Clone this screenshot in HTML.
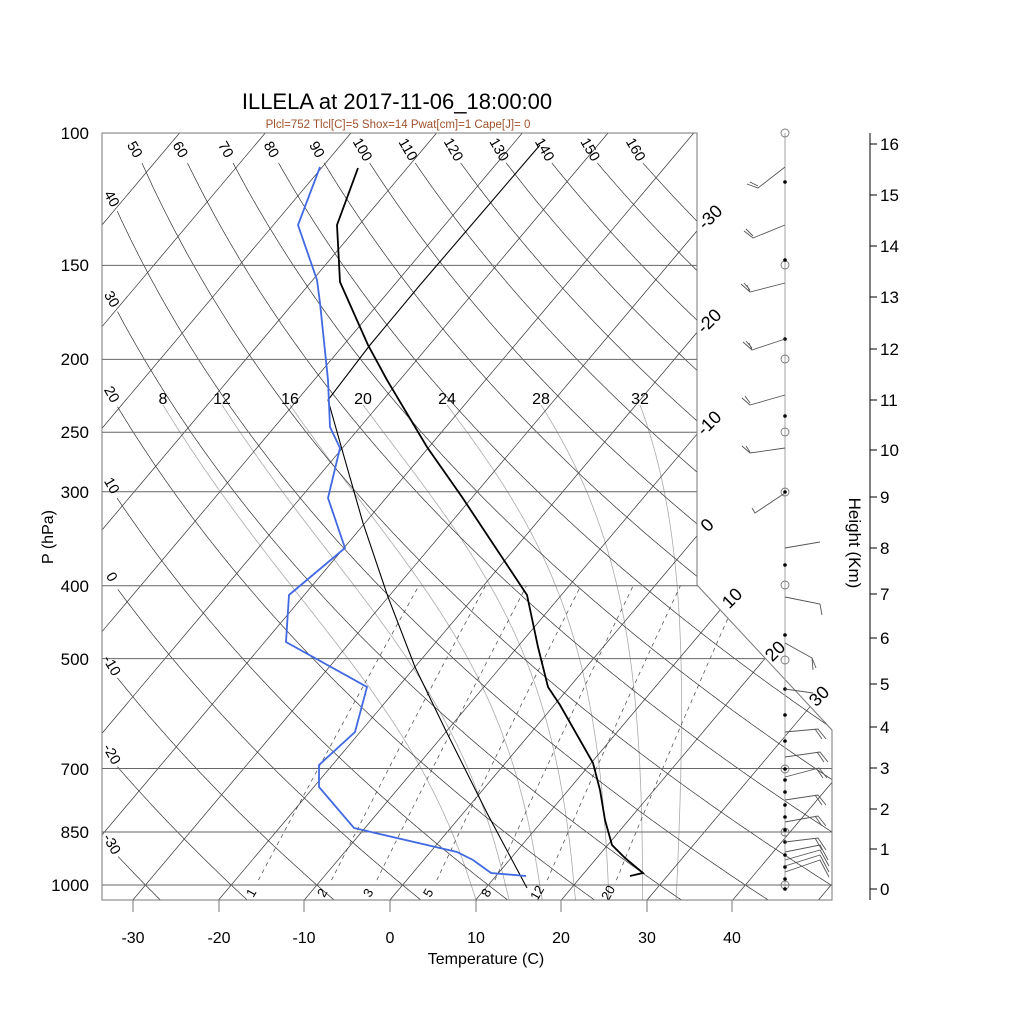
<!DOCTYPE html>
<html><head><meta charset="utf-8">
<style>
html,body{margin:0;padding:0;background:#fff;}
svg{display:block;font-family:"Liberation Sans",sans-serif;}
</style></head>
<body>
<svg id="s" width="1024" height="1024" viewBox="0 0 1024 1024" xmlns="http://www.w3.org/2000/svg">
<defs>
<clipPath id="cp"><polygon points="102,133 697,133 697,585 832,730 832,900 102,900"/></clipPath>
</defs>
<rect width="1024" height="1024" fill="#fff"/>
<g id="bg" clip-path="url(#cp)"></g>
<g id="lbl"></g>
<polygon points="102,133 697,133 697,585 832,730 832,900 102,900" fill="none" stroke="#777" stroke-width="1"/>
<!-- soundings -->
<polyline fill="none" stroke="#000" stroke-width="1.1" points="527,888 487,813 447,733 415,667 388,597 363,523 345,460 328,400 370,345 420,285 480,215 540,145"/>
<polyline fill="none" stroke="#000" stroke-width="1.8" points="358,168 337,225 340,282 368,345 387,380 427,447 462,497 527,595 538,647 548,687 560,705 593,763 600,790 605,820 612,845 625,858 643,873 630,876"/>
<polyline fill="none" stroke="#4169e1" stroke-width="1.8" points="320,167 298,225 317,280 320,303 328,380 330,427 340,448 328,498 345,548 289,595 286,642 367,687 355,732 319,765 319,787 354,828 457,852 473,860 491,873 526,876"/>
<!-- title -->
<text x="397" y="109" font-size="22" text-anchor="middle">ILLELA at 2017-11-06_18:00:00</text>
<text x="398" y="128" font-size="11.5" fill="#a0522d" text-anchor="middle">Plcl=752 Tlcl[C]=5 Shox=14 Pwat[cm]=1 Cape[J]= 0</text>
<!-- P axis -->
<g font-size="17" text-anchor="end">
<text x="89" y="139">100</text><text x="89" y="271">150</text><text x="89" y="365">200</text>
<text x="89" y="438">250</text><text x="89" y="498">300</text><text x="89" y="592">400</text>
<text x="89" y="665">500</text><text x="89" y="775">700</text><text x="89" y="838">850</text>
<text x="89" y="891">1000</text>
</g>
<text transform="translate(53,537) rotate(-90)" font-size="16" text-anchor="middle">P (hPa)</text>
<!-- T axis -->
<g stroke="#777" stroke-width="1">
<line x1="133" y1="900" x2="133" y2="912"/><line x1="219" y1="900" x2="219" y2="912"/>
<line x1="304" y1="900" x2="304" y2="912"/><line x1="390" y1="900" x2="390" y2="912"/>
<line x1="476" y1="900" x2="476" y2="912"/><line x1="561" y1="900" x2="561" y2="912"/>
<line x1="647" y1="900" x2="647" y2="912"/><line x1="732" y1="900" x2="732" y2="912"/>
</g>
<g font-size="16" text-anchor="middle">
<text x="133" y="943">-30</text><text x="219" y="943">-20</text><text x="304" y="943">-10</text>
<text x="390" y="943">0</text><text x="476" y="943">10</text><text x="561" y="943">20</text>
<text x="647" y="943">30</text><text x="732" y="943">40</text>
</g>
<text x="486" y="964" font-size="16" text-anchor="middle">Temperature (C)</text>
<!-- height axis -->
<g id="hax"></g>
<text transform="translate(849,543) rotate(90)" font-size="17" text-anchor="middle">Height (Km)</text>
<!-- wind column -->
<g id="wind" stroke="#555" stroke-width="0.9" fill="none"></g>
</svg>
<script>
(function(){
var NS='http://www.w3.org/2000/svg';
function yP(p){return 133+326.6*Math.log(p/100);}
function xT(T,y){return 402.6+8.57*T+0.843*(885-y);}
function el(parent,tag,attrs,txt){var e=document.createElementNS(NS,tag);for(var k in attrs)e.setAttribute(k,attrs[k]);if(txt!==undefined)e.textContent=txt;parent.appendChild(e);return e;}
function pth(pts){return 'M'+pts.map(function(p){return p[0].toFixed(1)+','+p[1].toFixed(1);}).join('L');}
var bg=document.getElementById('bg'),lbl=document.getElementById('lbl');
var Rd=287,cp=1004,Lv=2.5e6,eps=0.622;
function es(Tc){return 6.112*Math.exp(17.67*Tc/(Tc+243.5));}
function rs(Tc,p){var e=es(Tc);return eps*e/(p-e);}
function dTdlnp(Tc,p){var T=Tc+273.15,r=rs(Tc,p);return (Rd*T+Lv*r)/(cp+Lv*Lv*r*eps/(Rd*T*T));}
var mlab={8:163,12:222,16:290,20:363,24:447,28:541,32:640};
[8,12,16,20,24,28,32].forEach(function(tw){
  var up=[],T=tw,lp=Math.log(1000),h=0.005;
  while(Math.exp(lp)>231){up.push([Math.exp(lp),T]);T-=dTdlnp(T,Math.exp(lp))*h;lp-=h;}
  up.push([Math.exp(lp),T]);
  var dn=[];T=tw;lp=Math.log(1000);
  while(Math.exp(lp)<1060){T+=dTdlnp(T,Math.exp(lp))*h;lp+=h;dn.push([Math.exp(lp),T]);}
  var all=dn.reverse().concat(up);
  var top=all[all.length-1],ytop=yP(top[0]),xtop=xT(top[1],ytop);
  var dx=mlab[tw]-xtop;
  var pts=all.map(function(a){var y=yP(a[0]);var f=Math.max(0,(885-y)/(885-ytop));return [xT(a[1],y)+dx*f,y];});
  el(bg,'path',{d:pth(pts),fill:'none',stroke:'#aaa','stroke-width':'0.8'});
  el(lbl,'text',{x:mlab[tw],y:404,'font-size':'16','text-anchor':'middle'},String(tw));
});
var mw=[[1,255],[2,326],[3,372],[5,432],[8,490],[12,541],[20,612]];
mw.forEach(function(m){
  var w=m[0],pts=[];
  for(var p=985;p>=400;p-=5){var e=w*p/(622+w),l=Math.log(e/6.112),T=243.5*l/(17.67-l),y=yP(p);pts.push([xT(T,y),y]);}
  el(bg,'path',{d:pth(pts),fill:'none',stroke:'#444','stroke-width':'0.7','stroke-dasharray':'4,4'});
  el(lbl,'text',{transform:'translate('+m[1]+',895) rotate(-60)','font-size':'13','text-anchor':'middle'},String(w));
});
for(var T=-170;T<=50;T+=10){
  el(bg,'line',{x1:xT(T,133),y1:133,x2:xT(T,900),y2:900,stroke:'#333','stroke-width':'0.7'});
}
for(var th=-30;th<=160;th+=10){
  var pts=[];
  for(var p=100;p<=1100;p*=1.004){var Tc=(th+273.15)*Math.pow(p/1000,0.286)-273.15,y=yP(p),x=xT(Tc,y);if(y>=162&&x>=117)pts.push([x,y]);}
  if(!pts.length)continue;
  el(bg,'path',{d:pth(pts),fill:'none',stroke:'#333','stroke-width':'0.7'});
  var lx,ly;
  if(pts[0][1]<170){lx=pts[0][0]-8;ly=150;}else{lx=111;ly=pts[0][1]-12;}
  el(lbl,'text',{transform:'translate('+lx.toFixed(1)+','+ly.toFixed(1)+') rotate(60)','font-size':'14.5','text-anchor':'middle','dominant-baseline':'middle'},String(th));
}
[150,200,250,300,400,500,700,850,1000].forEach(function(p){var y=yP(p);el(bg,'line',{x1:102,y1:y,x2:840,y2:y,stroke:'#666','stroke-width':'1'});});
[[-30,711,218],[-20,710,322],[-10,710,424],[0,708,526],[10,733,599],[20,776,652],[30,820,697]].forEach(function(a){
  el(lbl,'text',{transform:'translate('+a[1]+','+a[2]+') rotate(-45)','font-size':'18','text-anchor':'middle','dominant-baseline':'middle'},String(a[0]));
});
var hax=document.getElementById('hax');
el(hax,'line',{x1:870,y1:133,x2:870,y2:900,stroke:'#000','stroke-width':'1'});
var hy=[889,849,809,768,727,684,638,594,548,497,450,400,349,297,246,195,144];
for(var k=0;k<=16;k++){var y=hy[k];el(hax,'line',{x1:870,y1:y,x2:877,y2:y,stroke:'#000','stroke-width':'1'});el(hax,'text',{x:880,y:y+6,'font-size':'17'},String(k));}
var wg=document.getElementById('wind');
el(wg,'line',{x1:785,y1:133,x2:785,y2:890,stroke:'#999'});
[133,265,359,432,492,585,660,769,832,885].forEach(function(y){el(wg,'circle',{cx:785,cy:y,r:4,stroke:'#777',fill:'none'});});
[182,260,339,416,492,565,635,689,715,741,769,780,792,805,817,830,842,855,867,879,889].forEach(function(y){el(wg,'circle',{cx:785,cy:y,r:1.8,fill:'#000',stroke:'none'});});
var barbs=[
 'M785,167L758,188L747,184M758,186L750,182',
 'M785,225L753,238L744,231M753,236L746,229',
 'M785,283L750,292L741,284M750,290L744,283M750,292L747,285',
 'M785,339L752,350L743,342M752,348L746,341M752,350L749,343',
 'M785,395L750,405L742,398M750,403L745,396',
 'M785,448L750,453L742,446M750,452L746,446',
 'M785,493L755,513L752,508',
 'M785,548L820,542',
 'M785,597L820,604L822,615',
 'M785,643L812,658L813,670M812,658L816,668',
 'M785,689L813,693',
 'M785,732L818,729L826,739M815,729L822,739',
 'M785,757L820,752L828,762M817,752L824,762',
 'M785,777L819,768L827,778M816,768L823,778',
 'M785,800L818,795L826,805M815,795L822,805',
 'M785,822L818,816L826,826M815,816L822,826',
 'M785,842L818,838L826,850M815,838L822,850',
 'M785,852L820,845L828,860',
 'M785,860L820,850L829,866',
 'M785,866L820,855L829,872',
 'M785,872L820,860L829,877'
];
barbs.forEach(function(d){el(wg,'path',{d:d});});
})();
</script>
</body></html>
